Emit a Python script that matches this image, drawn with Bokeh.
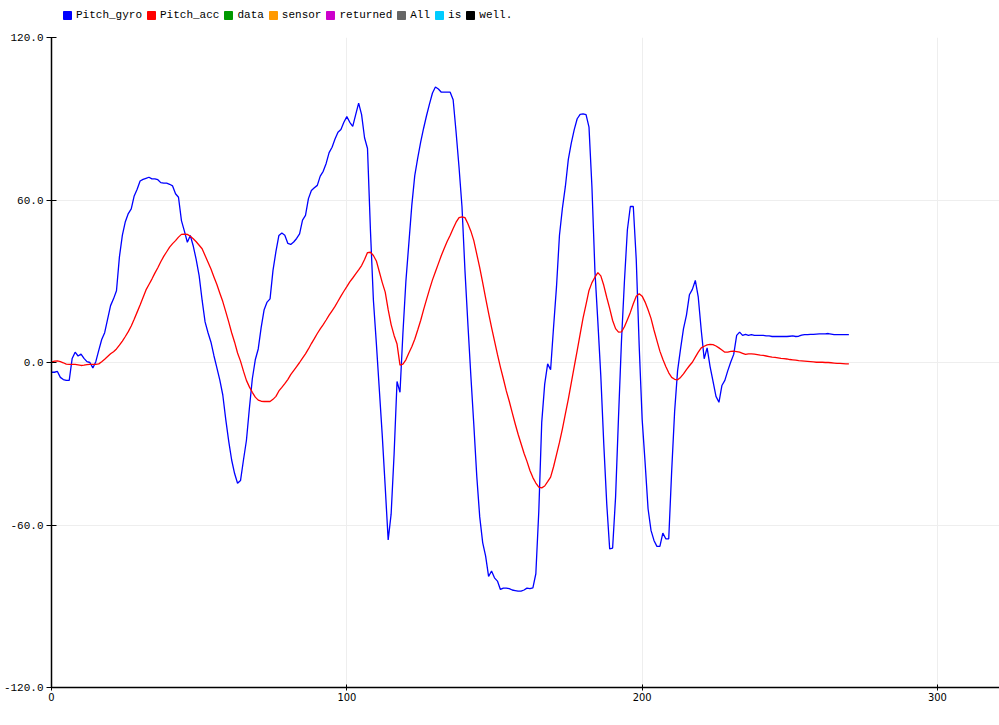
from bokeh.plotting import figure
from bokeh.layouts import column
from bokeh.models import Range1d, FixedTicker, PrintfTickFormatter, Legend, LegendItem
from bokeh.embed import file_html
from bokeh.resources import INLINE

# ---- data ----
pitch_gyro = [
    -3.6, -3.6, -3.3, -5.5, -6.3, -6.6, -6.6, 1.5, 3.8, 2.4,
    3.1, 1.5, 0.3, 0.0, -2.0, 0.3, 4.5, 8.5, 11.0, 16.0,
    21.0, 23.5, 26.5, 39.0, 47.0, 52.0, 55.0, 56.7, 61.5, 64.0,
    67.0, 67.6, 68.0, 68.4, 67.8, 67.8, 67.5, 66.4, 66.2, 66.2,
    65.8, 65.2, 62.3, 61.0, 52.4, 48.5, 44.4, 46.9, 43.0, 38.0,
    32.0, 23.0, 15.0, 11.0, 7.5, 2.5, -2.0, -6.5, -12.0, -21.0,
    -29.0, -36.0, -41.0, -44.6, -43.6, -36.0, -28.8, -17.0, -6.0, 1.0,
    5.0, 13.0, 19.5, 22.3, 23.5, 34.0, 41.0, 46.9, 47.8, 47.0,
    44.0, 43.6, 44.5, 45.8, 47.5, 52.6, 54.3, 60.5, 63.5, 64.5,
    65.4, 68.8, 70.6, 73.5, 77.5, 79.5, 82.5, 85.0, 86.0, 88.7,
    90.8, 88.7, 87.2, 91.5, 95.8, 91.5, 83.0, 79.0, 48.7, 23.0,
    7.0, -10.0, -27.0, -46.0, -65.5, -56.0, -34.0, -7.0, -11.0, 11.0,
    30.0, 44.0, 58.0, 69.0, 75.5, 81.4, 86.5, 91.2, 95.5, 99.5,
    101.7, 101.0, 99.8, 99.8, 99.8, 99.8, 97.0, 85.0, 72.0, 57.4,
    34.0, 14.0, -5.0, -23.0, -42.0, -57.0, -66.5, -71.5, -79.0, -77.0,
    -79.5, -80.7, -83.8, -83.3, -83.3, -83.5, -84.0, -84.2, -84.4, -84.4,
    -84.0, -83.3, -83.5, -83.2, -78.0, -55.0, -22.0, -8.0, -0.5, -2.7,
    13.0, 28.0, 47.0, 57.0, 65.0, 75.0, 81.0, 86.0, 90.0, 91.6,
    91.8, 91.5, 86.9, 64.7, 34.0, 15.0, -5.0, -30.0, -52.0, -68.8,
    -68.5, -49.7, -20.0, 8.0, 30.0, 49.0, 57.6, 57.6, 38.0, 6.0,
    -21.0, -37.0, -54.0, -62.0, -65.7, -67.9, -67.9, -63.0, -65.1, -65.1,
    -40.0, -18.0, -3.0, 5.0, 12.5, 17.5, 25.0, 27.0, 30.3, 24.1,
    12.0, 1.4, 5.4, -1.5, -7.0, -12.5, -14.7, -8.5, -6.6, -3.0,
    0.2, 3.0, 10.0, 11.2, 10.0, 10.4, 10.0, 10.3, 10.0, 10.0,
    10.0, 10.0, 9.8, 9.8, 9.6, 9.6, 9.6, 9.6, 9.6, 9.6,
    9.7, 9.8, 9.6, 9.7, 10.1, 10.3, 10.3, 10.4, 10.4, 10.5,
    10.6, 10.6, 10.6, 10.7, 10.5, 10.3, 10.3, 10.3, 10.3, 10.3,
    10.3,
]

pitch_acc = [
    0.1, 0.5, 0.6, 0.3, -0.1, -0.6, -0.7, -0.7, -0.7, -0.9,
    -1.1, -1.0, -0.8, -0.7, -0.7, -0.7, -0.5, 0.3, 1.2, 2.2,
    3.2, 4.0, 5.0, 6.4, 7.9, 9.6, 11.4, 13.5, 16.0, 18.6,
    21.2, 24.0, 26.8, 28.8, 30.8, 33.0, 35.0, 37.2, 39.2, 40.9,
    42.6, 43.9, 45.0, 46.3, 47.3, 47.4, 47.3, 46.6, 45.7, 44.6,
    43.3, 42.0, 39.5, 37.0, 34.5, 31.6, 28.8, 25.6, 22.5, 18.8,
    15.0, 11.0, 7.5, 3.5, 0.5, -3.2, -6.6, -9.0, -11.0, -12.8,
    -13.9, -14.3, -14.4, -14.4, -14.4, -13.6, -12.5, -10.5, -9.2, -7.8,
    -6.3, -4.5, -3.0, -1.5, 0.0, 1.6, 3.2, 5.0, 7.0, 8.8,
    10.7, 12.4, 14.0, 15.7, 17.5, 19.1, 20.7, 22.6, 24.5, 26.3,
    28.0, 29.8, 31.2, 32.7, 34.2, 35.8, 38.0, 40.6, 40.7, 39.5,
    37.5, 33.5, 29.5, 26.0, 19.5, 14.0, 10.0, 6.8, -1.0, -0.6,
    1.0, 3.5, 5.8, 8.6, 12.0, 15.5, 19.5, 23.3, 27.0, 30.5,
    33.5, 36.5, 39.5, 42.2, 44.8, 47.0, 49.5, 51.8, 53.5, 53.8,
    53.5, 51.2, 48.5, 45.0, 40.0, 35.0, 29.5, 23.8, 18.2, 13.0,
    8.0, 3.0, -1.7, -6.0, -10.5, -14.3, -18.5, -22.6, -26.5, -30.0,
    -33.5, -36.5, -39.9, -42.5, -44.5, -46.0, -46.3, -45.6, -44.0, -42.3,
    -38.5, -34.0, -29.5, -24.5, -19.0, -13.5, -7.5, -1.5, 4.4, 10.5,
    16.5, 21.5, 26.6, 29.5, 31.5, 33.2, 32.0, 28.5, 24.1, 20.0,
    15.5, 12.5, 11.2, 11.3, 13.2, 15.8, 18.5, 21.7, 24.5, 25.4,
    24.5, 22.3, 19.5, 16.3, 12.0, 8.1, 4.2, 1.2, -1.5, -3.8,
    -5.5, -6.2, -6.4, -5.5, -4.2, -2.6, -1.2, 0.1, 2.0, 3.8,
    5.4, 6.0, 6.5, 6.7, 6.6, 6.1, 5.4, 4.6, 3.8, 3.8,
    4.1, 4.2, 4.0, 3.8, 3.4, 3.0, 3.2, 3.2, 3.1, 2.9,
    2.7, 2.6, 2.4, 2.2, 2.0, 1.9, 1.7, 1.5, 1.4, 1.3,
    1.1, 1.0, 0.9, 0.7, 0.6, 0.5, 0.4, 0.3, 0.2, 0.1,
    0.1, 0.1, 0.0, 0.0, -0.1, -0.2, -0.3, -0.3, -0.4, -0.5,
    -0.5,
]

sample_index = list(range(len(pitch_gyro)))

legend_labels = ["Pitch_gyro", "Pitch_acc", "data", "sensor", "returned", "All", "is", "well."]
legend_colors = ["#0000ff", "#ff0000", "#009900", "#ff9900", "#cc00cc", "#666666", "#00ccff", "#000000"]

x_ticks = [0, 100, 200, 300]
y_ticks = [-120, -60, 0, 60, 120]

# ---- legend strip (top) ----
lf = figure(
    width=999, height=29, output_backend="svg", toolbar_location=None,
    x_range=Range1d(0, 1), y_range=Range1d(0, 1),
    min_border=0, min_border_left=0, min_border_right=0, min_border_top=0, min_border_bottom=0,
)
lf.axis.visible = False
lf.grid.visible = False
lf.outline_line_color = None
lf.background_fill_color = "white"
lf.border_fill_color = "white"

nan = float("nan")
items = []
for lab, col in zip(legend_labels, legend_colors):
    # swatch-only renderer (NaN position: nothing drawn in the plot area)
    r = lf.rect(x=[nan], y=[nan], width=1, height=1, fill_color=col, line_color=col)
    items.append(LegendItem(label=lab, renderers=[r]))

legend = Legend(
    items=items, orientation="horizontal", location=(11, 8),
    glyph_width=10, glyph_height=10, label_standoff=4, spacing=4,
    padding=0, margin=0, label_width=0,
    label_text_font="Liberation Mono", label_text_font_size="11px",
    label_text_color="black", label_height=10,
    border_line_alpha=0, background_fill_alpha=0,
)
lf.add_layout(legend)

# ---- main chart ----
p = figure(
    width=999, height=696,
    output_backend="svg", toolbar_location=None,
    x_range=Range1d(0, 321.0), y_range=Range1d(-120, 120),
    min_border_left=51, min_border_right=0, min_border_top=8, min_border_bottom=38,
)
p.outline_line_color = None
p.background_fill_color = "white"
p.border_fill_color = "white"

for ax in (p.xaxis[0], p.yaxis[0]):
    ax.axis_line_color = "black"
    ax.axis_line_width = 1.5
    ax.major_tick_line_color = "black"
    ax.major_tick_line_width = 1
    ax.minor_tick_line_color = None

p.yaxis.ticker = FixedTicker(ticks=y_ticks)
p.yaxis.formatter = PrintfTickFormatter(format="%.1f")
p.yaxis.major_tick_in = 5
p.yaxis.major_tick_out = 5
p.yaxis.major_label_standoff = 3
p.yaxis.major_label_text_font = "Liberation Mono"
p.yaxis.major_label_text_font_size = "11px"
p.yaxis.major_label_text_color = "black"

p.xaxis.ticker = FixedTicker(ticks=x_ticks)
p.xaxis.major_tick_in = 3
p.xaxis.major_tick_out = 3
p.xaxis.major_label_standoff = 2
p.xaxis.major_label_text_font = "Liberation Sans Narrow, DejaVu Sans Condensed, sans-serif"
p.xaxis.major_label_text_font_size = "11px"
p.xaxis.major_label_text_color = "black"

p.xgrid.grid_line_color = "#eeeeee"
p.ygrid.grid_line_color = "#eeeeee"
p.xgrid.ticker = FixedTicker(ticks=x_ticks)
p.ygrid.ticker = FixedTicker(ticks=y_ticks)

p.line(sample_index, pitch_gyro, line_color=legend_colors[0], line_width=1.3)
p.line(sample_index, pitch_acc, line_color=legend_colors[1], line_width=1.3)

layout = column(lf, p, spacing=0)
open("out.html", "w").write(file_html(layout, INLINE))
